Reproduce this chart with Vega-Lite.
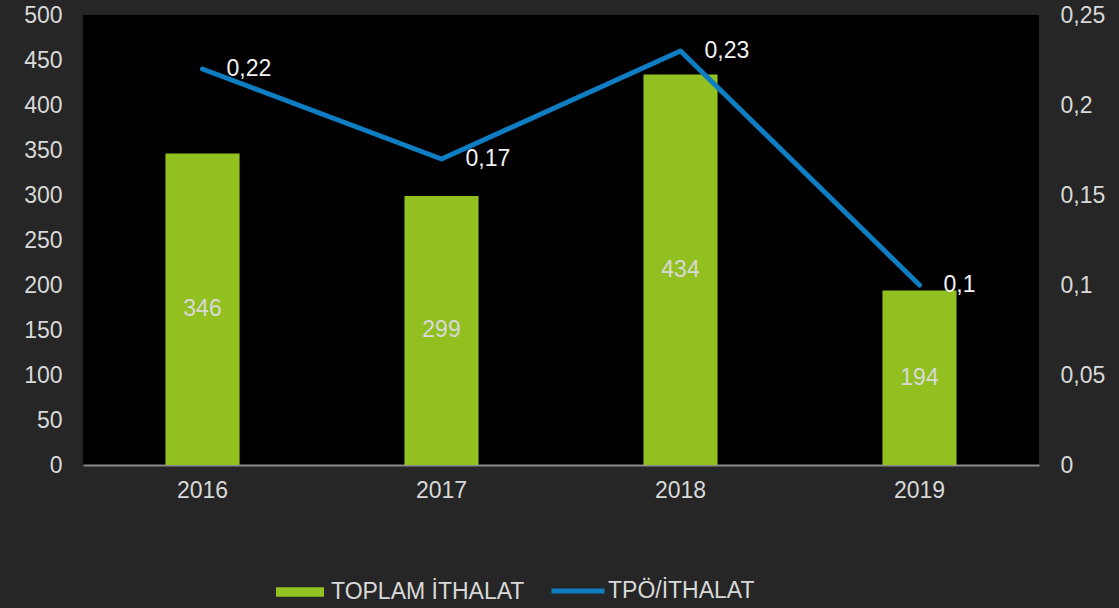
{
  "$schema": "https://vega.github.io/schema/vega-lite/v6.json",
  "width": 956,
  "height": 450,
  "autosize": {"type": "none"},
  "padding": {"left": 83, "top": 15, "right": 80, "bottom": 143},
  "background": "#262626",
  "config": {
    "view": {"fill": "#000000", "stroke": null},
    "font": "Liberation Sans",
    "locale": {"number": {"decimal": ",", "thousands": ".", "grouping": [3], "currency": ["", ""]}},
    "axis": {"labelFont": "Liberation Sans", "labelFontSize": 23, "labelColor": "#D9D9D9", "grid": false, "ticks": false, "domain": false, "title": null},
    "legend": {"labelFont": "Liberation Sans", "labelFontSize": 23, "labelColor": "#D9D9D9", "labelLimit": 400, "title": null}
  },
  "data": {"values": [
    {"yil": "2016", "ithalat": 346, "oran": 0.22},
    {"yil": "2017", "ithalat": 299, "oran": 0.17},
    {"yil": "2018", "ithalat": 434, "oran": 0.23},
    {"yil": "2019", "ithalat": 194, "oran": 0.1}
  ]},
  "encoding": {
    "x": {"field": "yil", "type": "nominal", "scale": {"paddingInner": 0.69, "paddingOuter": 0.345},
      "axis": {"labelAngle": 0, "domain": true, "domainColor": "#8C8C8C", "domainWidth": 2, "labelPadding": 14}}
  },
  "layer": [
    {
      "mark": {"type": "bar"},
      "encoding": {
        "y": {"field": "ithalat", "type": "quantitative", "scale": {"domain": [0, 500]},
          "axis": {"orient": "left", "values": [0, 50, 100, 150, 200, 250, 300, 350, 400, 450, 500], "labelPadding": 21}},
        "color": {"datum": "TOPLAM İTHALAT", "scale": {"range": ["#92C020"]},
          "legend": {"orient": "none", "legendX": 193, "legendY": 553, "symbolType": "M-1,-0.2H1V0.2H-1Z", "symbolSize": 2304, "symbolStrokeWidth": 0, "symbolOpacity": 1, "labelOffset": 7, "labelFontSize": 23, "labelLimit": 400}}
      }
    },
    {
      "mark": {"type": "text", "color": "#D9D9D9", "fontSize": 23, "baseline": "middle"},
      "encoding": {
        "y": {"field": "ithalat", "type": "quantitative", "scale": {"domain": [0, 1000]}, "axis": null},
        "text": {"field": "ithalat", "type": "quantitative"}
      }
    },
    {
      "encoding": {
        "y": {"field": "oran", "type": "quantitative", "scale": {"domain": [0, 0.25]},
          "axis": {"orient": "right", "values": [0, 0.05, 0.1, 0.15, 0.2, 0.25], "format": ".2~f", "labelPadding": 21}}
      },
      "layer": [
        {
          "mark": {"type": "line", "strokeWidth": 5, "strokeCap": "round", "strokeJoin": "round"},
          "encoding": {
            "color": {"datum": "TPÖ/İTHALAT", "scale": {"range": ["#0E7DC2"]},
              "legend": {"orient": "none", "legendX": 466, "legendY": 547, "symbolType": "stroke", "symbolSize": 2809, "symbolStrokeWidth": 5, "symbolStrokeColor": "#0E7DC2", "labelOffset": 1, "labelFontSize": 23, "labelLimit": 400}}
          }
        },
        {
          "mark": {"type": "text", "color": "#F2F2F2", "fontSize": 23, "align": "left", "baseline": "middle", "dx": 24},
          "encoding": {
            "text": {"field": "oran", "type": "quantitative", "format": ".2~f"}
          }
        }
      ]
    }
  ],
  "resolve": {"scale": {"y": "independent", "color": "independent"}}
}
